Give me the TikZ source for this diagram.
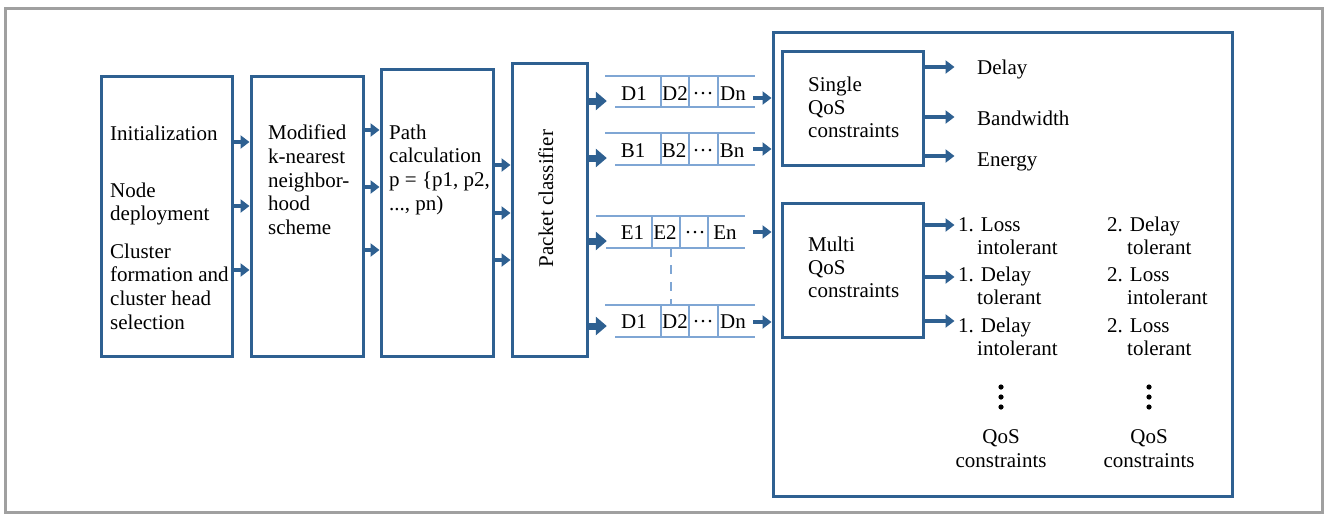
\documentclass[tikz,border=0pt]{standalone}
\usepackage{fontspec}
\setmainfont{Liberation Serif}
\usetikzlibrary{arrows.meta}
\definecolor{bb}{HTML}{2E6091}
\definecolor{ql}{HTML}{7FA6D4}
\definecolor{fr}{HTML}{A0A0A0}
\newcommand\hconn[4][arr]{\path ([yshift=#3pt]#2.east) coordinate (hcs); \draw[#1] (hcs) -- (hcs -| #4.west);}
\begin{document}
\begin{tikzpicture}[x=1pt,y=-1pt,
  box/.style={draw=bb, line width=3pt, inner sep=0pt},
  txt/.style={inner sep=0pt, anchor=north west, align=left, font=\fontsize{21}{23.7}\selectfont},
  txtr/.style={inner sep=0pt, anchor=north west, align=left, font=\fontsize{21}{23}\selectfont},
  one/.style={inner sep=0pt, anchor=base west, font=\fontsize{21}{23}\selectfont},
  cell/.style={inner sep=0pt, anchor=base, font=\fontsize{21}{23}\selectfont},
  arr/.style={draw=bb, line width=4.5pt, -{Triangle[length=9pt,width=13pt]}},
  barr/.style={draw=bb, line width=7pt, -{Triangle[length=11pt,width=18pt]}},
  qline/.style={draw=ql, line width=1.5pt},
  hole/.style={inner sep=0pt}]
\useasboundingbox (0,0) rectangle (1327,515);
\fill[white] (0,0) rectangle (1327,515);
\draw[fr, line width=3.5pt] (5.5,8.5) rectangle (1322.5,512.5);

% main boxes
\node[box, minimum width=131pt, minimum height=280pt] (b1) at (166.5,216) {};
\node[box, minimum width=112pt, minimum height=280pt] (b2) at (307,216) {};
\node[box, minimum width=112pt, minimum height=287pt] (b3) at (437,212.5) {};
\node[box, minimum width=75pt, minimum height=293pt] (b4) at (549.5,209.5) {};
\node[box, minimum width=459pt, minimum height=464pt] (big) at (1002.5,264) {};
\node[box, minimum width=141pt, minimum height=114pt] (single) at (852.5,108) {};
\node[box, minimum width=141pt, minimum height=134pt] (multi) at (852.5,270) {};

% texts in boxes
\node[txt] (t1a) at (110,123.4) {\strut Initialization};
\node[txt] (t1b) at (110,180.4) {\strut Node\\deployment};
\node[txt] (t1c) at (110,241.4) {\strut Cluster\\formation and\\cluster head\\selection};
\node[txt] (t2) at (268,122.9) {\strut Modified\\k-nearest\\neighbor-\\hood\\scheme};
\node[txt] (t3) at (389,122.4) {\strut Path\\calculation\\p = \{p1, p2,\\..., pn)};
\node[inner sep=0pt, rotate=90, anchor=base, font=\fontsize{21}{23}\selectfont] (t4) at (553,198.5) {Packet classifier};
\node[txtr] (ts) at (808,75.1) {\strut Single\\QoS\\constraints};
\node[txtr] (tm) at (808,235.1) {\strut Multi\\QoS\\constraints};

% arrows box1 -> box2 -> box3 -> box4
\hconn{b1}{74}{b2}
\hconn{b1}{10}{b2}
\hconn{b1}{-54}{b2}
\hconn{b2}{86}{b3}
\hconn{b2}{29}{b3}
\hconn{b2}{-34}{b3}
\hconn{b3}{47.5}{b4}
\hconn{b3}{-0.5}{b4}
\hconn{b3}{-47.5}{b4}

% queues (anchor nodes)
\node[hole, minimum width=146pt, minimum height=31pt] (q1) at (680,91.5) {};
\node[hole, minimum width=146pt, minimum height=32pt] (q2) at (680,149) {};
\node[hole, minimum width=146pt, minimum height=32pt] (q3) at (680,232) {};
\node[hole, minimum width=146pt, minimum height=32pt] (q4) at (680,321) {};

% queue lines
\draw[qline] (605,76) -- (755,76) (615,107) -- (755,107)
  (661,76) -- (661,107) (689,76) -- (689,107) (718,76) -- (718,107);
\draw[qline] (605,133) -- (755,133) (615,165) -- (755,165)
  (661,133) -- (661,165) (689,133) -- (689,165) (718,133) -- (718,165);
\draw[qline] (596,216) -- (745,216) (606,248) -- (745,248)
  (652,216) -- (652,248) (680,216) -- (680,248) (708,216) -- (708,248);
\draw[qline] (605,305) -- (755,305) (615,337) -- (755,337)
  (661,305) -- (661,337) (689,305) -- (689,337) (718,305) -- (718,337);
\draw[qline, dash pattern=on 9pt off 8pt] (671,248) -- (671,305);

% queue texts
\node[cell] (d11) at (634,100) {D1};
\node[cell] (d12) at (675,100) {D2};
\node[cell] (d13) at (703,100) {···};
\node[cell] (d1n) at (733,100) {Dn};
\node[cell] (b21) at (633,157) {B1};
\node[cell] (b22) at (674,157) {B2};
\node[cell] (b23) at (703,157) {···};
\node[cell] (b2n) at (732,157) {Bn};
\node[cell] (e31) at (632.5,239) {E1};
\node[cell] (e32) at (665,239) {E2};
\node[cell] (e33) at (695,239) {···};
\node[cell] (e3n) at (725,239) {En};
\node[cell] (d41) at (634,328) {D1};
\node[cell] (d42) at (675,328) {D2};
\node[cell] (d43) at (703,328) {···};
\node[cell] (d4n) at (733,328) {Dn};

% packet classifier -> queues
\hconn[barr]{b4}{108.5}{q1}
\hconn[barr]{b4}{51.5}{q2}
\hconn[barr]{b4}{-31.5}{q3}
\hconn[barr]{b4}{-116.5}{q4}

% queues -> big box
\hconn{q1}{-6.5}{big}
\hconn{q2}{0}{big}
\hconn{q3}{0}{big}
\hconn{q4}{-1}{big}

% single outputs
\draw[arr] ([yshift=41pt]single.east) -- ++(30,0);
\draw[arr] ([yshift=-9pt]single.east) -- ++(30,0);
\draw[arr] ([yshift=-48pt]single.east) -- ++(30,0);
\node[one] (delay) at (977,74) {Delay};
\node[one] (bw) at (977,125) {Bandwidth};
\node[one] (en) at (977,166) {Energy};

% multi outputs
\draw[arr] ([yshift=45pt]multi.east) -- ++(30,0);
\draw[arr] ([yshift=-7pt]multi.east) -- ++(30,0);
\draw[arr] ([yshift=-51pt]multi.east) -- ++(30,0);
\node[txtr] (m11) at (958,215.4) {\strut 1. Loss\\\hspace*{19pt}intolerant};
\node[txtr] (m12) at (958,265.4) {\strut 1. Delay\\\hspace*{19pt}tolerant};
\node[txtr] (m13) at (958,316.4) {\strut 1. Delay\\\hspace*{19pt}intolerant};
\node[txtr] (m21) at (1107,215.4) {\strut 2. Delay\\\hspace*{20pt}tolerant};
\node[txtr] (m22) at (1107,265.4) {\strut 2. Loss\\\hspace*{20pt}intolerant};
\node[txtr] (m23) at (1107,316.4) {\strut 2. Loss\\\hspace*{20pt}tolerant};

% vertical dots
\foreach \yy in {387,397,407} {
  \fill (1001,\yy) circle (2.6pt);
  \fill (1149,\yy) circle (2.6pt);
}
\node[inner sep=0pt, anchor=north, align=center, font=\fontsize{21}{24}\selectfont] (qc1) at (1001,426.2) {\strut QoS\\constraints};
\node[inner sep=0pt, anchor=north, align=center, font=\fontsize{21}{24}\selectfont] (qc2) at (1149,426.2) {\strut QoS\\constraints};
\end{tikzpicture}
\end{document}
